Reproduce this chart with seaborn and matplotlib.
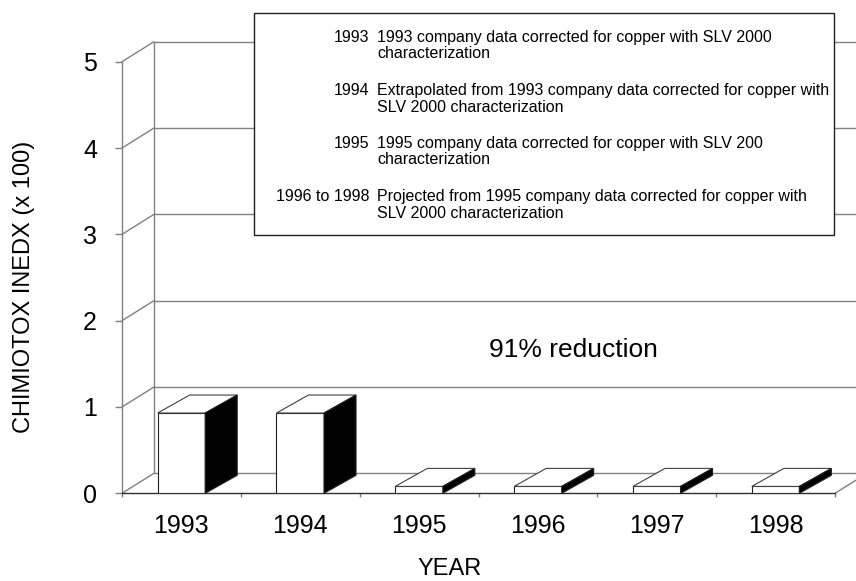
import numpy as np
import pandas as pd
import seaborn as sns
import matplotlib.pyplot as plt
from matplotlib.patches import Polygon, Rectangle

# chart data
years = ["1993", "1994", "1995", "1996", "1997", "1998"]
chimiotox = [0.93, 0.93, 0.08, 0.08, 0.08, 0.08]
y_ticks = [0, 1, 2, 3, 4, 5]

legend_years = ["1993", "1994", "1995", "1996 to 1998"]
legend_notes = [
    ["1993 company data corrected for copper with SLV 2000", "characterization"],
    ["Extrapolated from 1993 company data corrected for copper with", "SLV 2000 characterization"],
    ["1995 company data corrected for copper with SLV 200", "characterization"],
    ["Projected from 1995 company data corrected for copper with", "SLV 2000 characterization"],
]
note_text = "91% reduction"

W, H = 856, 581

def fx(px):
    return px / W

def fy(py):
    return 1 - py / H

sns.set_theme(style="white")
plt.rcParams['font.family'] = ['Liberation Sans', 'DejaVu Sans']
plt.rcParams['text.color'] = 'black'

fig = plt.figure(figsize=(W / 100, H / 100), dpi=100)
# front plane of the pseudo 3d box: x 122..835 px, y 493..62 px
ax = fig.add_axes([fx(122), fy(493.3), (835 - 122) / W, (493.3 - 61.7) / H])
ax.set_facecolor('none')

df = pd.DataFrame({'year': years, 'value': chimiotox})
sns.barplot(data=df, x='year', y='value', color='white', saturation=1,
            width=0.40, edgecolor='#202020', linewidth=0.8, ax=ax, zorder=3)

ax.set_xlim(-0.5, len(years) - 0.5)
ax.set_ylim(0, 5)

# depth offsets in data units
cat_px = (835 - 122) / len(years)
unit_px = (493.3 - 61.7) / 5
dxw, dyw = 32 / cat_px, 20 / unit_px
dxb, dyb = 32 / cat_px, 18 / unit_px

grid_c = '#808080'
x0 = -0.5
x1 = len(years) - 0.5
# back wall gridlines, left wall and floor edges
for v in y_ticks:
    ax.plot([x0 + dxw, x1 + 1.5], [v + dyw, v + dyw], color=grid_c, lw=1,
            clip_on=False, zorder=1)
    ax.plot([x0, x0 + dxw], [v, v + dyw], color=grid_c, lw=1,
            clip_on=False, zorder=1)
ax.plot([x0 + dxw, x0 + dxw], [dyw, 5 + dyw], color=grid_c, lw=1,
        clip_on=False, zorder=1)
ax.plot([x1, x1 + dxw], [0, dyw], color=grid_c, lw=1, clip_on=False, zorder=1)

# top and side faces of each bar
for p in ax.patches:
    bx, bw, bh = p.get_x(), p.get_width(), p.get_height()
    top = Polygon([(bx, bh), (bx + dxb, bh + dyb), (bx + bw + dxb, bh + dyb),
                   (bx + bw, bh)], closed=True, facecolor='white',
                  edgecolor='#404040', lw=0.8, zorder=3.5, clip_on=False)
    side = Polygon([(bx + bw, 0), (bx + bw, bh), (bx + bw + dxb, bh + dyb),
                    (bx + bw + dxb, dyb)], closed=True, facecolor='black',
                   edgecolor='#202020', lw=0.8, zorder=3.5, clip_on=False)
    ax.add_patch(top)
    ax.add_patch(side)

# axes styling
for s in ['top', 'right']:
    ax.spines[s].set_visible(False)
ax.spines['left'].set_color(grid_c)
ax.spines['left'].set_linewidth(1)
ax.spines['bottom'].set_color('#303030')
ax.spines['bottom'].set_linewidth(1)
ax.spines['left'].set_zorder(1)
ax.spines['bottom'].set_zorder(2)

ax.set_yticks(y_ticks)
ax.set_yticklabels([str(t) for t in y_ticks])
ax.set_xticks(range(len(years)))
ax.set_xticklabels(years)
ax.set_xticks(np.arange(-0.5, len(years), 1), minor=True)
ax.tick_params(axis='y', which='major', length=5, width=1, color=grid_c,
               direction='out', left=True, pad=13, labelsize=18, labelcolor='black')
ax.tick_params(axis='x', which='major', length=0, pad=15, labelsize=18,
               labelcolor='black')
ax.tick_params(axis='x', which='minor', length=3, width=1, color=grid_c,
               direction='out', bottom=True)
ax.set_xlabel('')
ax.set_ylabel('')

fig.text(fx(24), fy(287), "CHIMIOTOX INEDX (x 100)", rotation=90,
         ha='center', va='center', fontsize=17, color='black')
fig.text(fx(450), fy(569), "YEAR", ha='center', va='center', fontsize=17,
         color='black')
fig.text(fx(573), fy(357), note_text, ha='center', va='baseline', fontsize=19,
         color='black')

# legend box
box = Rectangle((fx(254), fy(235)), fx(834) - fx(254), fy(13) - fy(235),
                transform=fig.transFigure, facecolor='white', edgecolor='#202020',
                lw=1, zorder=5)
fig.add_artist(box)
base_lines = [42, 95, 148, 201]
for yr, lines, by in zip(legend_years, legend_notes, base_lines):
    fig.text(fx(369), fy(by), yr, ha='right', va='baseline', fontsize=11.5,
             color='black', zorder=6)
    for k, ln in enumerate(lines):
        fig.text(fx(377), fy(by + 16.5 * k), ln, ha='left', va='baseline',
                 fontsize=11.5, color='black', zorder=6)

fig.savefig('out.png', dpi=100)
